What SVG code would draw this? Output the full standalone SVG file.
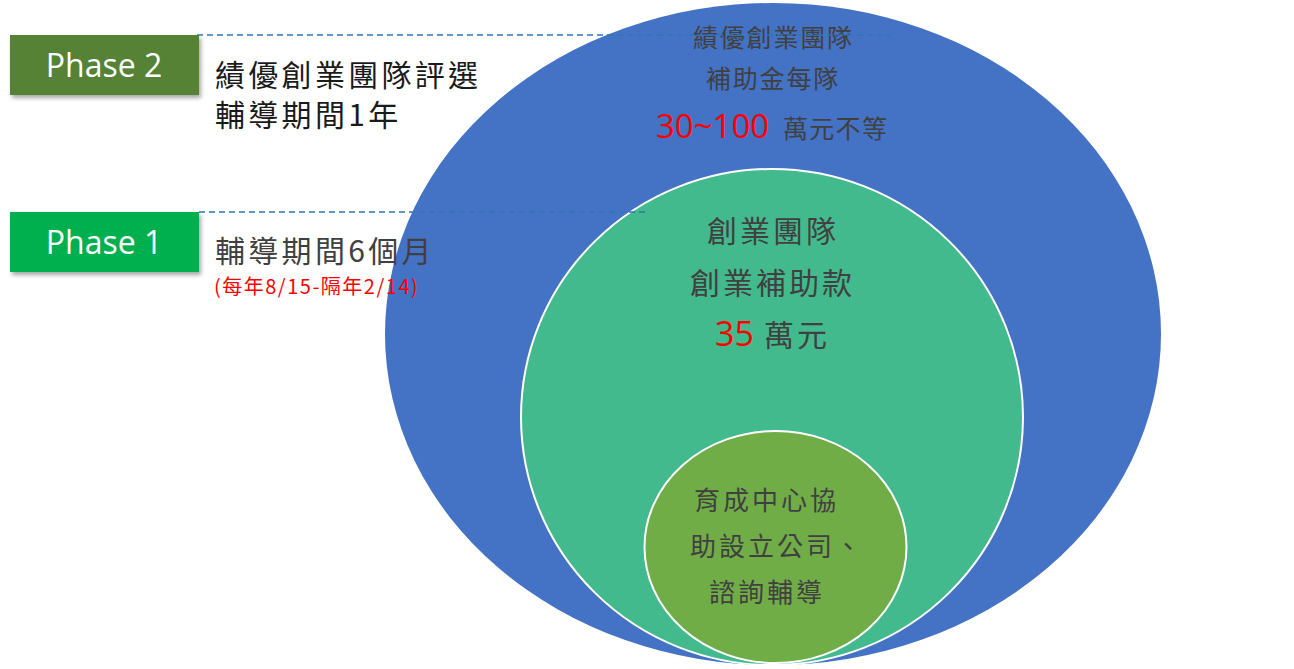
<svg xmlns="http://www.w3.org/2000/svg" width="1294" height="669" viewBox="0 0 1294 669">
<style>
.cjk{font-family:"Noto Sans CJK TC","Noto Sans CJK SC","Liberation Sans",sans-serif;}
.lat{font-family:"Open Sans","Noto Sans","Liberation Sans",sans-serif;}
.dash{stroke:#2E75B6;stroke-width:1.5;stroke-dasharray:6 4;fill:none;}
.dk{fill:#404040;}
.red{fill:#FF0000;}
.o{font-size:25px;letter-spacing:1.8px;}
.m{font-size:30px;letter-spacing:3px;}
.s{font-size:26px;letter-spacing:3px;}
.p{font-size:30px;letter-spacing:3.3px;}
</style>
<defs>
<filter id="sh" x="-10%" y="-20%" width="130%" height="160%">
<feDropShadow dx="2" dy="3" stdDeviation="2" flood-color="#000" flood-opacity="0.35"/>
</filter>
</defs>
<rect width="1294" height="669" fill="#FFFFFF"/>
<g id="outer">
<ellipse cx="773" cy="334" rx="388" ry="331" fill="#4472C4"/>
<text class="cjk dk o" x="693" y="47">績優創業團隊</text>
<text class="cjk dk o" x="706" y="88">補助金每隊</text>
<text class="lat red" font-size="33" x="656" y="138">30~100</text>
<text class="cjk dk" font-size="25" letter-spacing="1.3" x="783" y="138">萬元不等</text>
</g>
<g id="middle">
<ellipse cx="772" cy="417" rx="251" ry="248" fill="#43BA8D" stroke="#FFFFFF" stroke-width="2"/>
<text class="cjk dk m" x="707" y="242">創業團隊</text>
<text class="cjk dk m" x="690" y="294">創業補助款</text>
<text class="lat red" font-size="34" x="715" y="346">35</text>
<text class="cjk dk m" x="764" y="346">萬元</text>
</g>
<g id="inner">
<ellipse cx="775.5" cy="547" rx="131" ry="116" fill="#70AD47" stroke="#FFFFFF" stroke-width="2"/>
<text class="cjk dk s" x="694" y="510">育成中心協</text>
<text class="cjk dk s" x="690" y="556">助設立公司、</text>
<text class="cjk dk s" x="709" y="602">諮詢輔導</text>
</g>
<g id="connectors">
<line class="dash" x1="197" y1="35" x2="890" y2="35"/>
<line class="dash" x1="199" y1="212" x2="645" y2="212"/>
</g>
<g id="phase2">
<rect x="10" y="35" width="189" height="60" fill="#548235" filter="url(#sh)"/>
<text class="lat" font-size="32" fill="#FFFFFF" text-anchor="middle" x="104" y="77">Phase 2</text>
<text class="cjk p" fill="#1A1A1A" x="215" y="86">績優創業團隊評選</text>
<text class="cjk p" fill="#1A1A1A" x="215" y="126">輔導期間1年</text>
</g>
<g id="phase1">
<rect x="10" y="212" width="189" height="60" fill="#00B050" filter="url(#sh)"/>
<text class="lat" font-size="32" fill="#FFFFFF" text-anchor="middle" x="104" y="254">Phase 1</text>
<text class="cjk dk p" x="215" y="262">輔導期間6個月</text>
<text class="cjk red" font-size="20" letter-spacing="1.5" x="214" y="294">(每年8/15-隔年2/14)</text>
</g>
</svg>
